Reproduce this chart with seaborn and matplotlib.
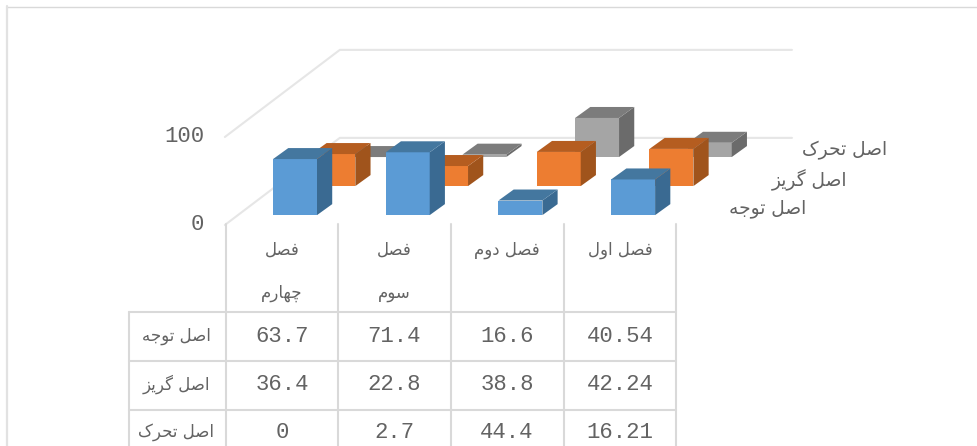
"""3D-style column chart with a data table below it."""

import matplotlib
matplotlib.use('Agg')
import matplotlib.pyplot as plt
from matplotlib.patches import Polygon
import pandas as pd
import seaborn as sns

categories = ['فصل چهارم', 'فصل سوم', 'فصل دوم', 'فصل اول']
series_names = ['اصل توجه', 'اصل گریز', 'اصل تحرک']
attention = [63.7, 71.4, 16.6, 40.54]
escape = [36.4, 22.8, 38.8, 42.24]
movement = [0, 2.7, 44.4, 16.21]
table_text = [
    ['63.7', '71.4', '16.6', '40.54'],
    ['36.4', '22.8', '38.8', '42.24'],
    ['0', '2.7', '44.4', '16.21'],
]
y_ticks = [0, 100]

TEXT = '#636363'
GRID = '#d9d9d9'
# front, top, side
COLORS = [
    ('#5b9bd5', '#44779f', '#3a6a92'),
    ('#ed7d31', '#b55d20', '#a0541c'),
    ('#a5a5a5', '#7c7c7c', '#6b6b6b'),
]
FONT_AR = ['DejaVu Sans']
FONT_NUM = ['Liberation Mono']

# projection of the floor: one row back moves the bar right and up
ROW_DX = 0.34
ROW_DY = 33.0
FIRST_ROW = 0.34
BAR_W = 0.39
BAR_DX = 0.135
BAR_DY = 12.5

# matplotlib does no Arabic shaping, so pick the joined forms here
# isolated, final, initial, medial
FORMS = {
    'ا': (0xFE8D, 0xFE8E), 'د': (0xFEA9, 0xFEAA), 'ر': (0xFEAD, 0xFEAE),
    'ز': (0xFEAF, 0xFEB0), 'و': (0xFEED, 0xFEEE),
    'ص': (0xFEB9, 0xFEBA, 0xFEBB, 0xFEBC), 'ل': (0xFEDD, 0xFEDE, 0xFEDF, 0xFEE0),
    'ت': (0xFE95, 0xFE96, 0xFE97, 0xFE98), 'ج': (0xFE9D, 0xFE9E, 0xFE9F, 0xFEA0),
    'ه': (0xFEE9, 0xFEEA, 0xFEEB, 0xFEEC), 'گ': (0xFB92, 0xFB93, 0xFB94, 0xFB95),
    'ی': (0xFBFC, 0xFBFD, 0xFBFE, 0xFBFF), 'ح': (0xFEA1, 0xFEA2, 0xFEA3, 0xFEA4),
    'ک': (0xFB8E, 0xFB8F, 0xFB90, 0xFB91), 'ف': (0xFED1, 0xFED2, 0xFED3, 0xFED4),
    'چ': (0xFB7A, 0xFB7B, 0xFB7C, 0xFB7D), 'م': (0xFEE1, 0xFEE2, 0xFEE3, 0xFEE4),
    'س': (0xFEB1, 0xFEB2, 0xFEB3, 0xFEB4),
}


def shape(text):
    """Logical Persian string -> joined glyphs in visual order"""
    out = []
    for i, ch in enumerate(text):
        if ch not in FORMS:
            out.append(ch)
            continue
        prev_joins = i > 0 and text[i - 1] in FORMS and len(FORMS[text[i - 1]]) == 4
        next_joins = i + 1 < len(text) and text[i + 1] in FORMS and len(FORMS[ch]) == 4
        idx = {(False, False): 0, (True, False): 1, (False, True): 2, (True, True): 3}[(prev_joins, next_joins)]
        out.append(chr(FORMS[ch][idx]))
    return ''.join(reversed(out))


def project(x, value, depth):
    return x + depth * ROW_DX, value + depth * ROW_DY


def draw_row(ax, values, row):
    """One row of columns: seaborn draws the fronts, top and side follow from them"""
    depth = FIRST_ROW + row
    front, top, side = COLORS[row]
    base_x, base_y = project(0, 0, depth)
    df = pd.DataFrame({'pos': [i + base_x for i in range(len(values))], 'value': values})
    n_before = len(ax.patches)
    sns.barplot(data=df, x='pos', y='value', native_scale=True, width=BAR_W, color=front,
                saturation=1, linewidth=0, bottom=base_y, errorbar=None, ax=ax)
    for bar in list(ax.patches)[n_before:]:
        x0, w = bar.get_x(), bar.get_width()
        y0, h = bar.get_y(), bar.get_height()
        x1, y1 = x0 + w, y0 + h
        ax.add_patch(Polygon([(x1, y0), (x1 + BAR_DX, y0 + BAR_DY), (x1 + BAR_DX, y1 + BAR_DY), (x1, y1)],
                             facecolor=side, edgecolor='none'))
        ax.add_patch(Polygon([(x0, y1), (x1, y1), (x1 + BAR_DX, y1 + BAR_DY), (x0 + BAR_DX, y1 + BAR_DY)],
                             facecolor=top, edgecolor='none'))


sns.set_theme(style='white')
fig = plt.figure(figsize=(9.77, 4.46), dpi=100, facecolor='white')

# chart axes: x is the category index, y the value
ax = fig.add_axes([0, 0, 1, 1])
for wall_value in y_ticks:
    xs, ys = zip(project(-0.507, wall_value, 0), project(-0.507, wall_value, 3), project(3.505, wall_value, 3))
    ax.plot(xs, ys, color='#e6e6e6', lw=1.5, solid_joinstyle='miter', zorder=0.5)
draw_row(ax, movement, 2)
draw_row(ax, escape, 1)
draw_row(ax, attention, 0)
ax.set_xlim(-282 / 112.7, (977 - 282) / 112.7)
ax.set_ylim(-221 / 0.88, 225 / 0.88)
ax.axis('off')

# overlay in pixels for the frame, the table and all the text
ov = fig.add_axes([0, 0, 1, 1])
ov.set_xlim(0, 977)
ov.set_ylim(446, 0)
ov.axis('off')
ov.patch.set_alpha(0)

ov.plot([7, 977], [6.5, 6.5], color=GRID, lw=1)
ov.plot([7, 7], [6, 446], color='#e2e2e2', lw=1.6)

for x in [226, 338, 451, 564, 676]:
    ov.plot([x, x], [224, 446], color=GRID, lw=1.5)
ov.plot([129, 129], [312, 446], color=GRID, lw=1.5)
for y in [312, 361, 410]:
    ov.plot([129, 676], [y, y], color=GRID, lw=1.5)

for tick, y in zip(y_ticks, [224, 137]):
    ov.text(204, y, str(tick), ha='right', va='center', color=TEXT, fontsize=16, family=FONT_NUM)

for name, x, y in zip(series_names, [806, 847, 887], [209, 180, 150]):
    ov.text(x, y, shape(name), ha='right', va='center', color=TEXT, fontsize=13.4, family=FONT_AR)

col_x = [282, 394, 507, 620]
row_y = [337, 385, 433]
for x, cat in zip(col_x, categories):
    first, second = cat.split(' ')
    if x < 450:
        ov.text(x, 250, shape(first), ha='center', va='center', color=TEXT, fontsize=12, family=FONT_AR)
        ov.text(x, 293, shape(second), ha='center', va='center', color=TEXT, fontsize=12, family=FONT_AR)
    else:
        ov.text(x, 250, shape(cat), ha='center', va='center', color=TEXT, fontsize=12, family=FONT_AR)

for y, name, row in zip(row_y, series_names, table_text):
    ov.text(176, y - 1, shape(name), ha='center', va='center', color=TEXT, fontsize=12, family=FONT_AR)
    for x, cell in zip(col_x, row):
        ov.text(x, y, cell, ha='center', va='center', color=TEXT, fontsize=16, family=FONT_NUM)

plt.savefig('out.png', dpi=100, facecolor='white')
plt.close()
